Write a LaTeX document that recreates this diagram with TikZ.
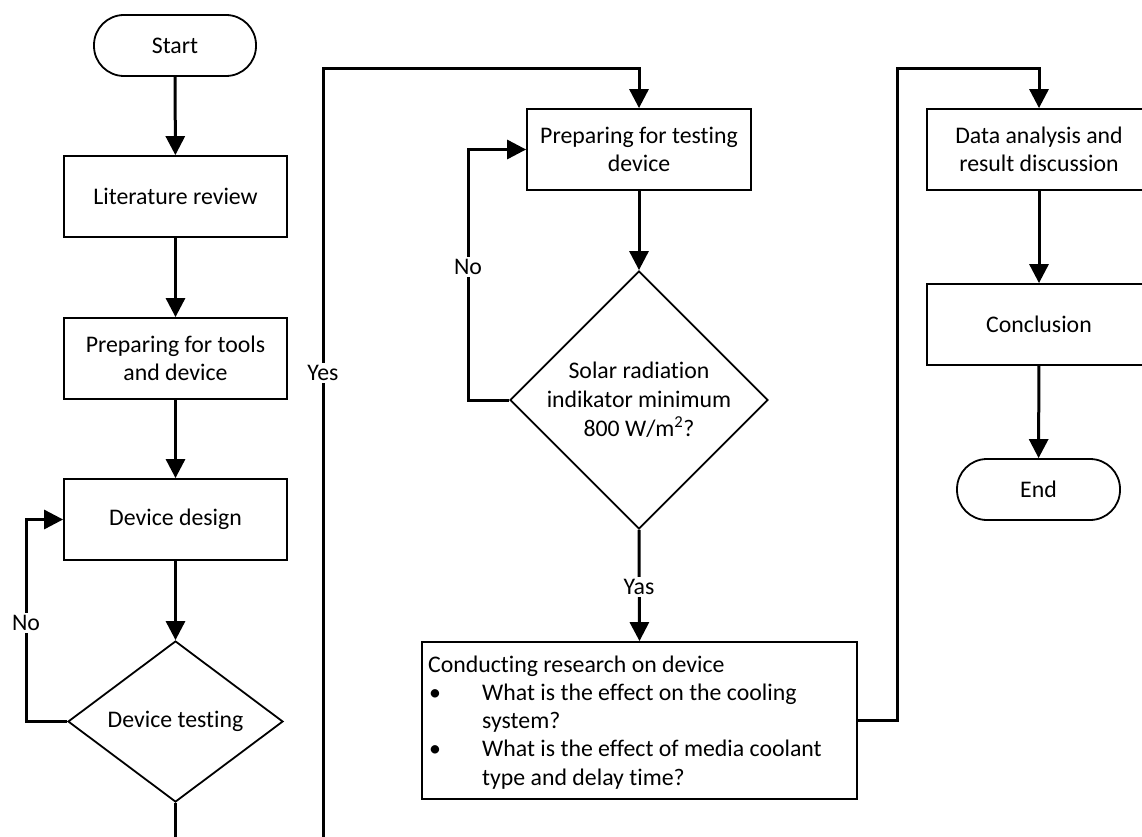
\documentclass[tikz,border=0pt]{standalone}
\usepackage{fontspec}
\setmainfont{Carlito}[Ligatures=NoCommon]
\usetikzlibrary{arrows.meta,shapes.geometric,calc}
\tikzset{
  every node/.style={font=\fontsize{23.8pt}{28pt}\selectfont},
  boxnode/.style={draw, line width=1.8pt, minimum width=#1, minimum height=81pt, inner sep=0pt, align=center},
  boxnode/.default=223pt,
  pill/.style={draw, line width=1.8pt, rectangle, rounded corners=30pt, minimum width=162pt, minimum height=61pt, inner sep=0pt},
  conn/.style={line width=3pt, -{Triangle[length=19pt,width=19pt]}},
  plain/.style={line width=3pt},
  lbl/.style={fill=white, inner sep=2pt}
}
\begin{document}
\begin{tikzpicture}[x=1pt,y=-1pt]
\clip (0,0) rectangle (1142,837);
\fill[white] (0,0) rectangle (1142,837);

% left column
\node[pill] (start) at (175,45.5) {Start};
\node[boxnode] (lit) at (175.5,196.5) {Literature review};
\node[boxnode] (tools) at (175.5,358.5) {Preparing for tools\\and device};
\node[boxnode] (design) at (175.5,519.5) {Device design};
\node[draw, line width=1.8pt, diamond, inner sep=0pt, minimum width=215pt, minimum height=161pt, aspect=1.335] (test) at (175.5,721.5) {};
\node (testtxt) at (test.center) {Device testing};

% middle column
\node[boxnode=224pt] (prep) at (639,149.5) {Preparing for testing\\device};
\node[draw, line width=1.8pt, diamond, inner sep=0pt, minimum width=258pt, minimum height=258pt, aspect=1] (solar) at (639,400) {};
\node[align=center, font=\fontsize{23.8pt}{29pt}\selectfont] (solartxt) at (solar.center) {Solar radiation\\indikator minimum\\800 W/m\textsuperscript{2}?};
\node[draw, line width=1.8pt, minimum width=435pt, minimum height=157pt, inner sep=0pt] (research) at (639.5,720.5) {};
\node[anchor=base west, inner sep=0pt] (restxt) at (428,672) {\begin{minipage}[t]{425pt}\setlength{\baselineskip}{28.3pt}%
Conducting research on device\\
\makebox[54pt][l]{\hspace{1pt}\textbullet}What is the effect on the cooling\\
\hspace*{54pt}system?\\
\makebox[54pt][l]{\hspace{1pt}\textbullet}What is the effect of media coolant\\
\hspace*{54pt}type and delay time?
\end{minipage}};

% right column
\node[boxnode=224pt] (data) at (1039,149.5) {Data analysis and\\result discussion};
\node[boxnode=224pt] (concl) at (1039,324.5) {Conclusion};
\node[pill, minimum width=163pt] (end) at (1038.5,489.5) {End};

% coordinates for off-page ends and bends
\coordinate (botA) at (175.5,840);
\coordinate (botB) at (323,840);
\coordinate (topB) at (323,69);
\coordinate (noA) at (26,721.5);
\coordinate (noB) at (468,400);
\coordinate (topC) at (897,69);

% connectors
\draw[conn] (start) -- (lit);
\draw[conn] (lit) -- (tools);
\draw[conn] (tools) -- (design);
\draw[conn] (design) -- (test.north);
\draw[conn] (test.west) -- (noA) |- (design.west);
\node[lbl] (noAl) at (26,623) {No};
\draw[plain] (test.south) -- (botA);
\draw[conn] (botB) -- (topB) -| (prep.north);
\node[lbl] (yesl) at (323,373) {Yes};

\draw[conn] (prep) -- (solar.north);
\draw[conn] (solar.west) -- (noB) |- (prep.west);
\node[lbl] (noBl) at (468,267) {No};
\draw[conn] (solar.south) -- (research.north);
\node[lbl] (yasl) at (639,587) {Yas};

\draw[conn] (research.east) -| (topC) -| (data.north);
\draw[conn] (data) -- (concl);
\draw[conn] (concl) -- (end);
\end{tikzpicture}
\end{document}
